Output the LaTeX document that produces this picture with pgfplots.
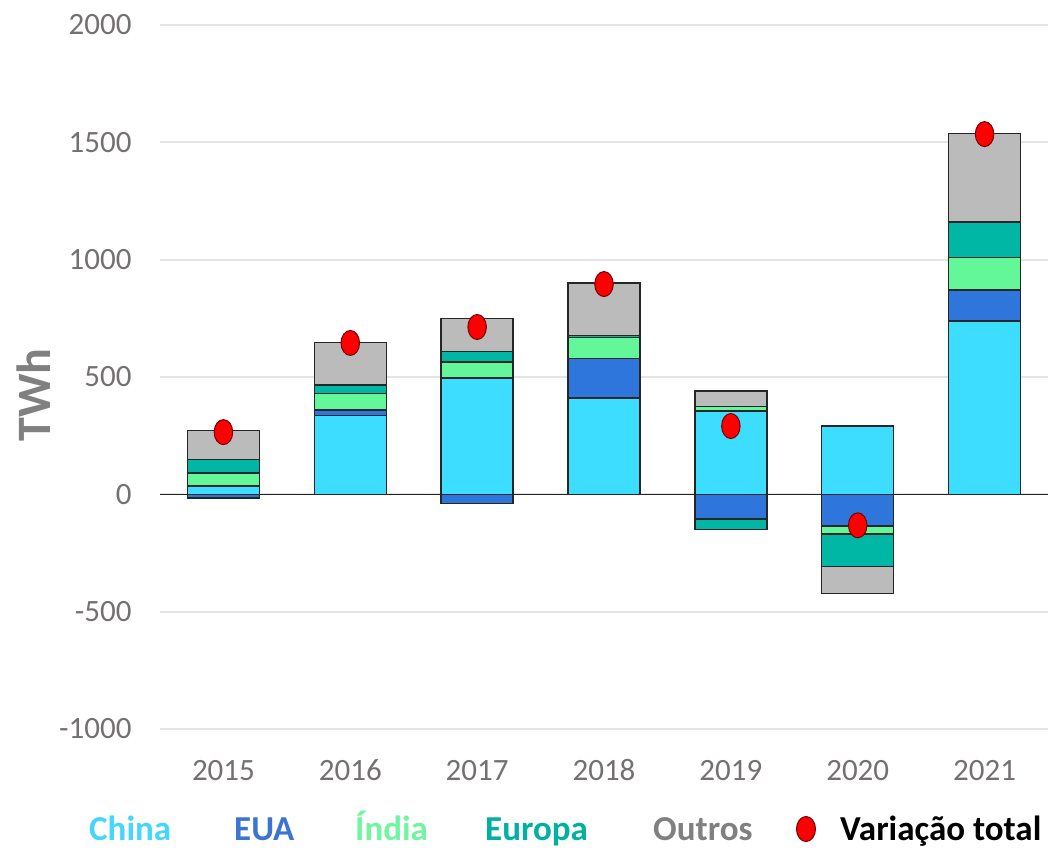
\documentclass[border=0pt]{standalone}
\usepackage{pgfplots}
\pgfplotsset{compat=1.18}
\usepackage{pgfplotstable}
\usepackage{fontspec}
\setmainfont{Carlito}
\definecolor{cChina}{HTML}{3DDDFF}
\definecolor{cEUA}{HTML}{2F76DC}
\definecolor{cIndia}{HTML}{63F79A}
\definecolor{cEuropa}{HTML}{00B7A5}
\definecolor{cOutros}{HTML}{BBBBBB}
\definecolor{lChina}{HTML}{45D6FF}
\definecolor{lEUA}{HTML}{3C74D4}
\definecolor{lIndia}{HTML}{70F5A0}
\definecolor{lEuropa}{HTML}{00B0A0}
\definecolor{lOutros}{HTML}{808080}
\definecolor{tickgray}{HTML}{757070}
\definecolor{gridgray}{HTML}{E4E4E4}

\pgfplotstableread{
x china eua india europa outros
0 35 0 55 58 125
1 335 25 70 35 183
2 495 0 68 45 142
3 410 168 90 8 224
4 355 0 20 0 66
5 291 0 0 0 0
6 738 132 140 150 377
}\posdata
\pgfplotstableread{
x china eua india europa outros
0 0 -15 0 0 0
1 0 0 0 0 0
2 0 -40 0 0 0
3 0 0 0 0 0
4 0 -105 0 -45 0
5 0 -135 -33 -140 -115
6 0 0 0 0 0
}\negdata
\pgfplotstableread{
x total
0 265
1 645
2 713
3 896
4 291
5 -132
6 1535
}\totdata

\pgfplotsset{
  common/.style={scale only axis, width=888pt, height=704pt,
    xmin=-0.5, xmax=6.5, ymin=-1000, ymax=2000,
    at={(0pt,0pt)}, anchor=south west},
  barset/.style={common, ybar stacked, bar width=72pt,
    every axis plot/.append style={draw=black!85, line width=1.5pt}},
}

\begin{document}
\begin{tikzpicture}
\useasboundingbox (-160pt,-122pt) rectangle (898pt,729pt);
% axis with grid, ticks and positive stacks
\begin{axis}[barset,
  axis line style={draw=none}, tick style={draw=none},
  ymajorgrids, grid style={line width=2pt, color=gridgray},
  ytick={-1000,-500,0,500,1000,1500,2000},
  xtick={0,1,2,3,4,5,6},
  xticklabels={2015,2016,2017,2018,2019,2020,2021},
  /pgf/number format/assume math mode=true,
  /pgf/number format/1000 sep={},
  tick label style={font=\fontsize{31}{31}\selectfont, text=tickgray},
  yticklabel style={xshift=-25pt},
  xticklabel style={anchor=base, yshift=-52pt},
]
\addplot[fill=cChina] table[x=x, y=china] {\posdata};
\addplot[fill=cEUA] table[x=x, y=eua] {\posdata};
\addplot[fill=cIndia] table[x=x, y=india] {\posdata};
\addplot[fill=cEuropa] table[x=x, y=europa] {\posdata};
\addplot[fill=cOutros] table[x=x, y=outros] {\posdata};
\end{axis}
% negative stacks
\begin{axis}[barset, hide axis]
\addplot[fill=cChina] table[x=x, y=china] {\negdata};
\addplot[fill=cEUA] table[x=x, y=eua] {\negdata};
\addplot[fill=cIndia] table[x=x, y=india] {\negdata};
\addplot[fill=cEuropa] table[x=x, y=europa] {\negdata};
\addplot[fill=cOutros] table[x=x, y=outros] {\negdata};
\end{axis}
% zero line and totals
\begin{axis}[common, hide axis, clip=false]
\addplot[black!85, line width=1.6pt] coordinates {(-0.5,0) (6.5,0)};
\addplot[only marks, mark=*, mark size=12.5pt,
  mark options={fill=red, draw=black!55!red, line width=1pt, xscale=0.74}]
  table[x=x, y=total] {\totdata};
\end{axis}
% y label
\node[rotate=90, font=\fontsize{48}{48}\selectfont\bfseries, text=lOutros] at (-126pt,334pt) {TWh};
% legend
\begin{scope}[every node/.style={anchor=base west, inner sep=0pt, font=\fontsize{35}{35}\selectfont\bfseries}]
\node[text=lChina] at (-71pt,-112pt) {China};
\node[text=lEUA] at (74pt,-112pt) {EUA};
\node[text=lIndia] at (195pt,-112pt) {Índia};
\node[text=lEuropa] at (325pt,-112pt) {Europa};
\node[text=lOutros] at (493pt,-112pt) {Outros};
\node[text=black] at (680pt,-112pt) {Variação total};
\end{scope}
\filldraw[fill=red, draw=black!55!red, line width=1pt] (646pt,-100pt) ellipse [x radius=9.5pt, y radius=12.5pt];
\end{tikzpicture}
\end{document}
